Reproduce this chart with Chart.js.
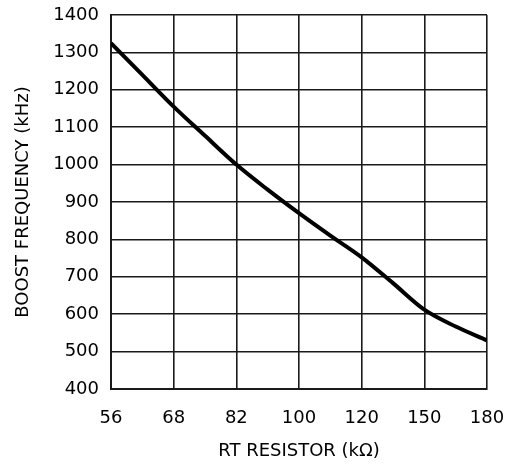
<!DOCTYPE html>
<html>
<head>
<meta charset="utf-8">
<script src="https://cdn.jsdelivr.net/npm/chart.js@4.4.1/dist/chart.umd.min.js"></script>
<style>
  html, body { margin: 0; padding: 0; background: #fff; }
  #wrap { width: 515px; height: 472px; }
</style>
</head>
<body>
<div id="wrap"><canvas id="chart" width="515" height="472"></canvas></div>
<script>
// Подписи оси X (равномерный шаг, ряд E12)
const resistorLabels = ['56', '68', '82', '100', '120', '150', '180'];
// Положение точек кривой в долях шага оси X
const curvePos = [0, 0.5, 1, 1.5, 2, 2.5, 3, 3.5, 4, 4.5, 5, 5.5, 6];
// Частота (кГц)
const boostFreq = [1325, 1240, 1155, 1077, 1000, 933, 870, 810, 752, 683, 612, 567, 530];

const yMin = 400;
const yMax = 1400;
const yStep = 100;

const fontFamily = '"DejaVu Sans", sans-serif';

const points = curvePos.map((x, i) => ({ x: x, y: boostFreq[i] }));

new Chart(document.getElementById('chart'), {
    type: 'line',
    data: {
        datasets: [{
            data: points,
            borderColor: '#000',
            borderWidth: 4,
            pointRadius: 0,
            cubicInterpolationMode: 'monotone',
            fill: false
        }]
    },
    options: {
        responsive: false,
        animation: false,
        devicePixelRatio: 1,
        layout: { padding: { top: 15, right: 28, left: 0, bottom: 0 } },
        plugins: {
            legend: { display: false },
            tooltip: { enabled: false }
        },
        scales: {
            x: {
                type: 'linear',
                min: 0,
                max: resistorLabels.length - 1,
                ticks: {
                    stepSize: 1,
                    color: '#000',
                    padding: 19,
                    font: { family: fontFamily, size: 18 },
                    callback: (v) => resistorLabels[v] !== undefined ? resistorLabels[v] : ''
                },
                grid: { color: '#1a1a1a', lineWidth: 1.6, drawTicks: false },
                border: { color: '#1a1a1a', width: 2 },
                title: {
                    display: true,
                    text: 'RT RESISTOR (kΩ)',
                    color: '#000',
                    font: { family: fontFamily, size: 18 },
                    padding: { top: 10, bottom: 10 }
                },
                afterFit: (scale) => {
                    scale.height = 83;
                    scale.paddingLeft = 0;
                    scale.paddingRight = 0;
                }
            },
            y: {
                min: yMin,
                max: yMax,
                ticks: {
                    stepSize: yStep,
                    color: '#000',
                    padding: 12,
                    font: { family: fontFamily, size: 18 },
                    callback: (v) => String(v)
                },
                grid: { color: '#1a1a1a', lineWidth: 1.6, drawTicks: false },
                border: { color: '#1a1a1a', width: 2 },
                title: {
                    display: true,
                    text: 'BOOST FREQUENCY (kHz)',
                    color: '#000',
                    font: { family: fontFamily, size: 18 },
                    padding: { top: 13, bottom: 4 }
                },
                afterFit: (scale) => {
                    scale.width = 111;
                    scale.paddingTop = 0;
                    scale.paddingBottom = 0;
                }
            }
        }
    }
});
</script>
</body>
</html>
